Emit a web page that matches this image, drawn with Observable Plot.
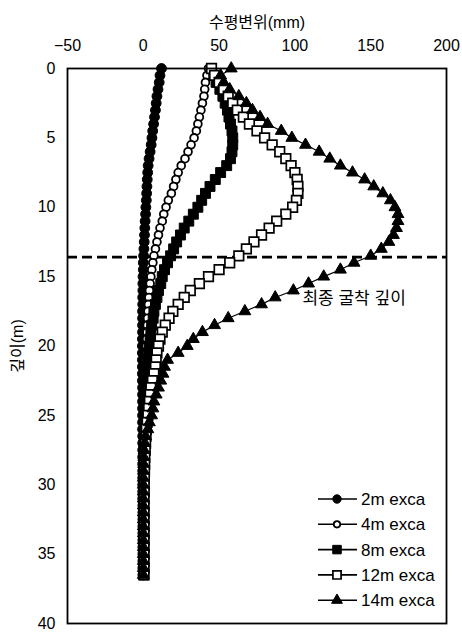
<!DOCTYPE html>
<html><head><meta charset="utf-8">
<script src="https://cdn.jsdelivr.net/npm/d3@7"></script>
<script src="https://cdn.jsdelivr.net/npm/@observablehq/plot@0.6"></script>
<style>
body{margin:0;background:#fff}
#wrap{position:relative;width:462px;height:635px}
#legend{position:absolute;left:0;top:0;pointer-events:none}
</style>
</head><body><div id="wrap"></div>
<script>
// depth (m)
const depth = [
  0,0.5,1,1.5,2,2.5,3,3.5,4,4.5,
  5,5.5,6,6.5,7,7.5,8,8.5,9,9.5,
  10,10.5,11,11.5,12,12.5,13,13.5,14,14.5,
  15,15.5,16,16.5,17,17.5,18,18.5,19,19.5,
  20,20.5,21,21.5,22,22.5,23,23.5,24,24.5,
  25,25.5,26,26.5,27,27.5,28,28.5,29,29.5,
  30,30.5,31,31.5,32,32.5,33,33.5,34,34.5,
  35,35.5,36,36.5
];
// horizontal displacement (mm)
const exca2m = [
  12,11,10.5,9.7,9,8.5,8,7.4,6.8,6.2,
  5.7,5.2,4.5,3.8,3.2,2.9,2.6,2.4,2.2,2,
  1.7,1.5,1.2,1,0.8,0.6,0.4,0.2,0,0,
  -0.2,-0.3,-0.3,-0.4,-0.4,-0.5,-0.5,-0.5,-0.5,-0.6,
  -0.6,-0.6,-0.6,-0.6,-0.6,-0.6,-0.5,-0.5,-0.5,-0.5,
  -0.5,-0.5,-0.5,-0.4,-0.4,-0.4,-0.4,-0.4,-0.4,-0.4,
  -0.4,-0.4,-0.4,-0.3,-0.3,-0.3,-0.3,-0.3,-0.3,-0.3,
  -0.3,-0.3,-0.3,-0.3
];
const exca4m = [
  43,42,41,40.5,40,39,38,37,36,35,
  33.5,31.5,29.5,27.5,25,23,21.5,20,18.5,16.5,
  15,13.5,12.5,11,10,9,8,7,6.3,5.6,
  5,4.5,4,3.7,3.4,3.1,2.8,2.6,2.4,2.2,
  2,1.8,1.6,1.4,1.2,1.1,1,0.9,0.8,0.7,
  0.6,0.5,0.4,0.4,0.3,0.3,0.2,0.2,0.1,0.1,
  0,0,0,0,0,0,0,0,0,0,
  0,0,0,0
];
const exca8m = [
  45,46.5,48,50.5,52.5,54,55.5,56.5,57.5,58.5,
  59,59,58.5,57.5,55,51,47.5,44,41,38.5,
  36,33,30,27,24.5,22,20,18,16,14,
  12.5,11.5,10,9,8,7,6.5,5.5,5,4.5,
  4,3.5,3,2.7,2.5,2.2,2,1.8,1.5,1.3,
  1,0.9,0.8,0.7,0.6,0.5,0.5,0.4,0.4,0.3,
  0.3,0.3,0.3,0.3,0.3,0.3,0.3,0.3,0.3,0.3,
  0.3,0.3,0.3,0.3
];
const exca12m = [
  45,47,50,53,56,59,62,66,70,75,
  80,85,90,94,97.5,100,101.5,102,102,101,
  98.5,94,88,83,78,73,68,63,57,50,
  43,37,31,27,23,19.5,17,14.5,12.5,11,
  10,9,8.5,8,7,6,5,4.5,4,3.5,
  3,2.5,2,1.8,1.5,1.3,1,0.9,0.8,0.7,
  0.6,0.6,0.5,0.5,0.5,0.5,0.5,0.5,0.5,0.5,
  0.5,0.5,0.5,0.5
];
const exca14m = [
  58,51,53,57,63,68,72,77,82,91,
  98,107,116,123,130,138,146,152,158,163,
  166,168,168,167,165,162,157,150,139,130,
  119,109,99,87,78,67,56,47,39,33,
  29,23,16,14,13,11.5,10,8.5,7,6.3,
  5.5,4,3,1.5,1,0.5,0.3,0.2,0.1,0,
  0,0,0,0,0,0,0,0,0,0,
  0,0,0,0
];
const seriesNames = ["2m exca","4m exca","8m exca","12m exca","14m exca"];
const xTicks = [-50,0,50,100,150,200];
const yTicks = [0,5,10,15,20,25,30,35,40];
const finalDepth = [13.6];
const annotation = ["최종 굴착 깊이"];
const annotationAt = {x: 105, y: 16.6};

// styling
const seriesValues = [exca2m, exca4m, exca8m, exca12m, exca14m];
const styleOf = [
  {symbol:"circle",   fill:"black", r:4.9, sw:1},
  {symbol:"circle",   fill:"white", r:3.9, sw:1.8},
  {symbol:"square",   fill:"black", r:5.6, sw:1},
  {symbol:"square",   fill:"white", r:5.4, sw:1.7},
  {symbol:"triangle", fill:"black", r:4.4, sw:1}
];
const FONT = "'Liberation Sans', Arial, 'Noto Sans CJK KR', sans-serif";

const rows = [];
seriesNames.forEach((name, k) => depth.forEach((d, i) => rows.push({series: name, k, depth: d, disp: seriesValues[k][i]})));

const marks = [
  Plot.ruleY(finalDepth, {stroke: "black", strokeWidth: 2.8, strokeDasharray: "10,5"}),
  Plot.axisX(xTicks, {anchor: "top", tickSize: 0, tickPadding: 18, fontSize: 16, label: "수평변위(mm)", labelAnchor: "center", labelOffset: 52, labelArrow: "none"}),
  Plot.axisY(yTicks, {anchor: "left", tickSize: 0, tickPadding: 12, fontSize: 16, label: "깊이(m)", labelAnchor: "center", labelOffset: 56, labelArrow: "none"}),
  Plot.text(annotation, {x: () => annotationAt.x, y: () => annotationAt.y, text: d => d, textAnchor: "start", fontSize: 17})
];
seriesNames.forEach((name, k) => {
  const data = rows.filter(r => r.k === k);
  marks.push(Plot.line(data, {x: "disp", y: "depth", stroke: "black", strokeWidth: 1.2}));
});
seriesNames.forEach((name, k) => {
  const data = rows.filter(r => r.k === k);
  const s = styleOf[k];
  marks.push(Plot.dot(data, {x: "disp", y: "depth", symbol: s.symbol, r: s.r, fill: s.fill, stroke: "black", strokeWidth: s.sw}));
});
marks.push(Plot.frame({stroke: "black", strokeWidth: 1.8}));

const chart = Plot.plot({
  width: 462, height: 635,
  marginLeft: 67, marginRight: 16, marginTop: 68, marginBottom: 12,
  style: {fontFamily: FONT, fontSize: "16px", color: "black", background: "white"},
  x: {domain: [-50, 200]},
  y: {domain: [0, 40], reverse: true},
  marks
});
const wrap = document.getElementById("wrap");
wrap.appendChild(chart);

// legend overlay
const lg = d3.select(wrap).append("svg").attr("id","legend").attr("width",462).attr("height",635);
const legendR = [4.2, 3.2, 4.8, 4.6, 4];
seriesNames.forEach((name, k) => {
  const y = 499 + k * 25.3;
  const g = lg.append("g").attr("transform", `translate(0,${y})`);
  g.append("line").attr("x1", 318).attr("x2", 357).attr("y1", 0).attr("y2", 0).attr("stroke","black").attr("stroke-width",1.6);
  const sym = {circle: d3.symbolCircle, square: d3.symbolSquare, triangle: d3.symbolTriangle}[styleOf[k].symbol];
  g.append("path").attr("d", d3.symbol(sym, Math.PI * legendR[k] ** 2)()).attr("transform","translate(337,0)")
    .attr("fill", styleOf[k].fill).attr("stroke","black").attr("stroke-width", styleOf[k].sw);
  g.append("text").attr("x", 361).attr("y", 0).attr("dy","0.36em").attr("font-family", FONT).attr("font-size", 17).text(name);
});
</script>
</body></html>
